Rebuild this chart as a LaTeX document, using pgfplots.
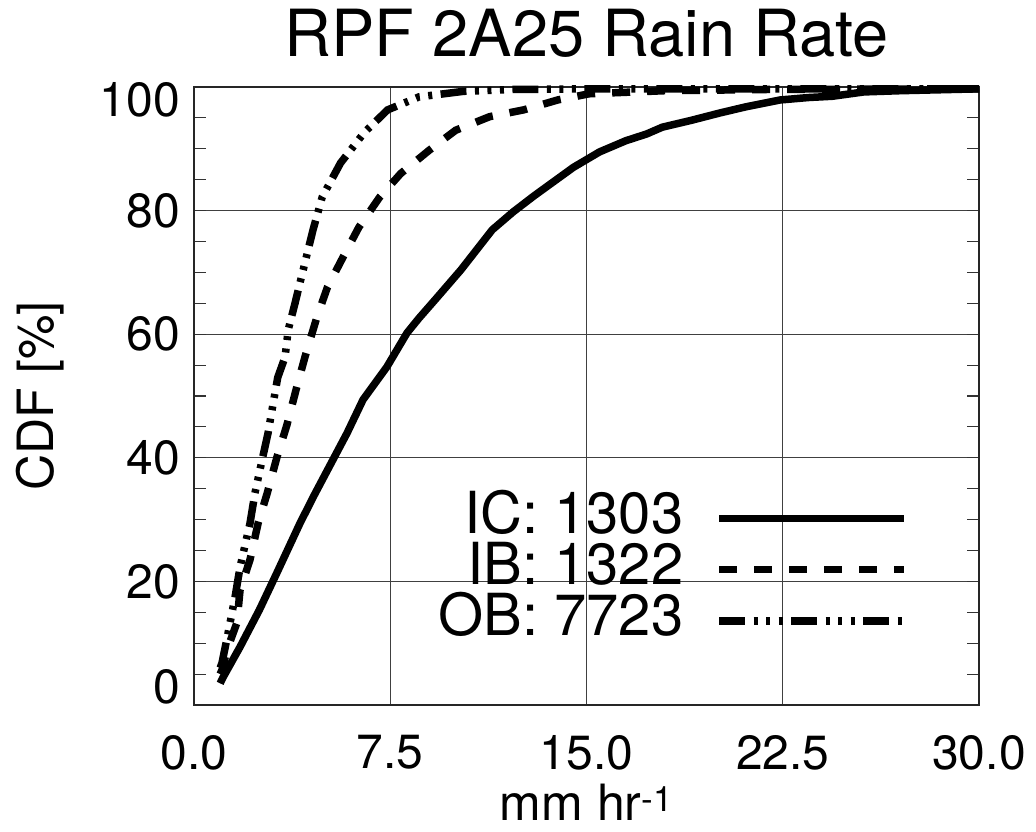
\documentclass[border=0pt]{standalone}
\usepackage{fontspec}
\setmainfont{TeX Gyre Heros}
\usepackage{pgfplots}
\pgfplotsset{compat=1.18}
\begin{document}
\begin{tikzpicture}
\begin{axis}[
  scale only axis,
  width=785pt, height=618pt,
  xmin=0, xmax=30, ymin=0, ymax=100,
  clip=false,
  xtick={0,7.5,15,22.5,30},
  xticklabels={0.0,7.5,15.0,22.5,30.0},
  ytick={0,20,40,60,80,100},
  yticklabels={\raisebox{18pt}[\height][\depth]{0},20,40,60,80,\raisebox{-13pt}[\height][\depth]{100}},
  minor y tick num=3,
  xtick style={draw=none},
  ytick style={line width=1.1pt, black!80},
  minor y tick style={line width=1.1pt, black!80},
  major tick length=12pt, minor tick length=12pt,
  tick align=inside,
  grid=major,
  major grid style={line width=1.3pt, black!75},
  axis line style={line width=1.5pt, black!85},
  xticklabel style={font=\fontsize{48}{56}\selectfont, inner sep=0pt, yshift=-30pt, anchor=north},
  yticklabel style={font=\fontsize{48}{56}\selectfont, inner sep=0pt, xshift=-14pt, anchor=east},
  title={RPF 2A25 Rain Rate},
  title style={font=\fontsize{65}{72}\selectfont, at={(axis description cs:0.5,1)}, anchor=base, yshift=24pt, inner sep=0pt},
  xlabel={mm hr\textsuperscript{-1}},
  xlabel style={font=\fontsize{50}{58}\selectfont, at={(axis description cs:0.5,-0.1875)}, anchor=base, inner sep=0pt},
  ylabel={CDF [\%]},
  ylabel style={font=\fontsize{50}{58}\selectfont, at={(axis description cs:-0.1796,0.5)}, anchor=base, inner sep=0pt},
  legend plot pos=right,
  legend cell align=right,
  legend image code/.code={\draw[#1] (0pt,-6pt) -- (185pt,-6pt);},
  legend style={draw=none, fill=none, inner sep=0pt, outer sep=0pt,
    nodes={inner sep=0pt},
    font=\fontsize{58}{66}\selectfont,
    column sep=32pt, row sep=7pt,
    at={(rel axis cs:0.9095,0.348)}, anchor=north east},
]
\addplot[black, line width=7.5pt, line join=round] coordinates {
(1.0,3.5) (1.1,4.4) (1.76,9.4) (2.5,15.4) (3.17,21.4) (4.05,29.4) (4.6,34.0)
(5.3,39.6) (5.85,44.0) (6.46,49.4) (7.37,54.7) (8.14,60.2) (8.6,62.6)
(9.2,65.5) (10.2,70.4) (11.4,76.9) (12.2,79.8) (13.0,82.4) (14.5,87.0)
(15.5,89.5) (16.5,91.3) (17.3,92.4) (17.9,93.5) (19.0,94.6) (20.1,95.8)
(21.1,96.8) (22.4,97.9) (23.5,98.3) (24.4,98.5) (25.6,99.2) (27,99.4) (30,99.7)
};
\addlegendentry{IC: 1303}
\addplot[black, line width=7.5pt, dash pattern=on 18pt off 17pt] coordinates {
(1.0,5.0) (1.07,5.7) (1.26,8.9) (1.64,13.3) (1.76,18.6) (2.14,23.5) (2.45,29.4)
(2.8,34.3) (3.17,40.1) (3.55,45.3) (3.9,51.0) (4.24,56.3) (4.7,62.8) (5.1,67.6)
(5.7,72.5) (6.3,77.3) (7.1,82.2) (7.9,86.0) (9.0,89.8) (10.0,93.0) (11.3,95.2)
(12.6,96.3) (13.9,97.9) (15.1,98.9) (18,99.4) (22,99.6) (30,99.7)
};
\addlegendentry{IB: 1322}
\addplot[black, line width=7.5pt, dash pattern=on 26pt off 8.5pt on 4pt off 8.5pt on 4pt off 8.5pt on 4pt off 8.5pt] coordinates {
(1.0,6.0) (1.07,6.8) (1.3,11.6) (1.57,17.5) (1.76,22.3) (2.14,29.4) (2.33,34.3)
(2.6,39.6) (2.83,44.0) (2.98,47.7) (3.2,53.0) (3.48,56.3) (3.6,60.7) (3.86,65.0)
(4.05,68.3) (4.55,76.9) (4.9,82.2) (5.6,87.7) (6.5,92.6) (7.4,96.3) (8.6,98.4)
(10.3,99.3) (12.2,99.6) (15,99.7) (30,99.7)
};
\addlegendentry{OB: 7723}
\end{axis}
\pgfresetboundingbox
\path[use as bounding box] (-194pt,-127pt) rectangle (842pt,705pt);
\end{tikzpicture}
\end{document}
